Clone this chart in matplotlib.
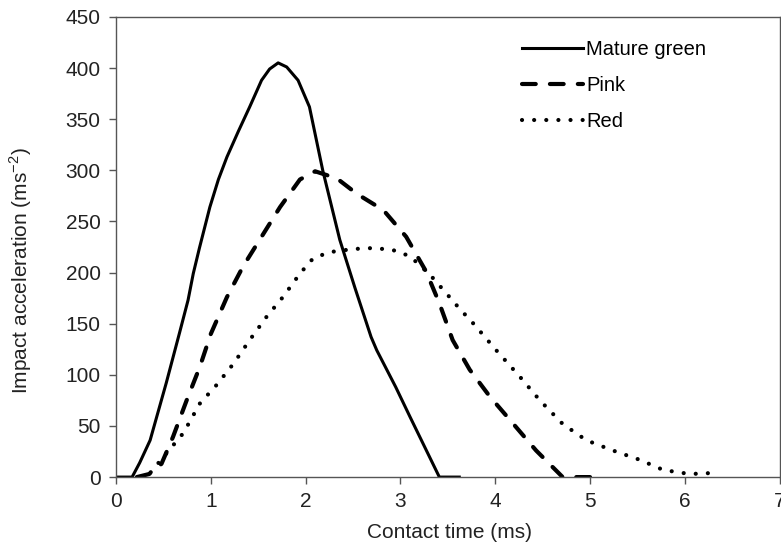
import numpy as np
import matplotlib
matplotlib.use('Agg')
import matplotlib.pyplot as plt

plt.rcParams['font.family'] = ['Liberation Sans', 'DejaVu Sans']

# Mature green (solid)
green_t = [0, 0.17, 0.25, 0.36, 0.53, 0.67, 0.76, 0.815, 0.88, 0.99, 1.08, 1.17, 1.29, 1.41,
           1.535, 1.62, 1.71, 1.80, 1.92, 2.04, 2.18, 2.36, 2.52, 2.69, 2.75, 2.95,
           3.10, 3.41, 3.62]
green_a = [0, 0, 14, 36, 92, 141, 173, 199, 224, 264, 291, 313, 338, 362,
           388, 399, 405, 401, 388, 362, 300, 232, 185, 137, 124, 88,
           59, 0, 0]

# Pink (dashed)
pink_t = [0.22, 0.35, 0.48, 0.60, 0.745, 0.885, 1.0, 1.17, 1.34, 1.535, 1.73, 1.94, 2.10,
          2.33, 2.54, 2.82, 3.06, 3.27, 3.41, 3.55, 3.73, 3.94, 4.19, 4.43, 4.71, 5.1]
pink_a = [0, 3, 13, 39, 75, 108, 140, 176, 206, 235, 264, 291, 299,
          292, 277, 261, 235, 201, 170, 134, 105, 79, 52, 26, 0, 0]

# Red (dotted)
red_t = [0.25, 0.36, 0.53, 0.71, 0.885, 1.06, 1.24, 1.41, 1.59, 1.76, 1.94, 2.08, 2.255,
         2.5, 2.72, 2.92, 3.10, 3.31, 3.48, 3.62, 3.77, 4.01, 4.26, 4.47, 4.71, 4.96,
         5.24, 5.52, 5.77, 6.05, 6.29]
red_a = [0, 4, 23, 43, 72, 90, 111, 134, 157, 176, 199, 214, 220,
         223, 224, 222, 216, 198, 180, 165, 150, 124, 98, 75, 52, 36,
         26, 17, 7, 3, 4]

fig = plt.figure(figsize=(7.81, 5.44), dpi=100)
ax = fig.add_axes([0.1485, 0.123, 0.850, 0.846])

ax.plot(green_t, green_a, color='black', lw=2.2, label='Mature green',
        solid_joinstyle='round')
ax.plot(pink_t, pink_a, color='black', lw=3.0, linestyle=(0, (3.3, 3.4)),
        dash_capstyle='round', label='Pink')
ax.plot(red_t, red_a, color='black', lw=3.0, linestyle=(0, (0.01, 2.9)),
        dash_capstyle='round', label='Red')

ax.set_xlim(0, 7)
ax.set_ylim(0, 450)
ax.set_xticks(range(0, 8))
ax.set_yticks(range(0, 451, 50))
ax.tick_params(direction='out', length=5, width=1, color='#555555',
               labelsize=15, labelcolor='#222222')
ax.tick_params(axis='y', pad=6)
ax.tick_params(axis='x', pad=6)
for s in ax.spines.values():
    s.set_color('#555555')
    s.set_linewidth(1)

ax.set_xlabel('Contact time (ms)', fontsize=15, color='#222222')
ax.set_ylabel(r'Impact acceleration (ms$^{\mathregular{-2}}$)', fontsize=15,
              color='#222222')
ax.xaxis.set_label_coords(0.503, -0.10)
ax.yaxis.set_label_coords(-0.123, 0.448)

leg = ax.legend(loc='upper left', bbox_to_anchor=(0.585, 0.99), frameon=False,
                fontsize=14.5, handlelength=3.0, handletextpad=0.15, labelspacing=0.85)

fig.savefig('out.png', dpi=100)
